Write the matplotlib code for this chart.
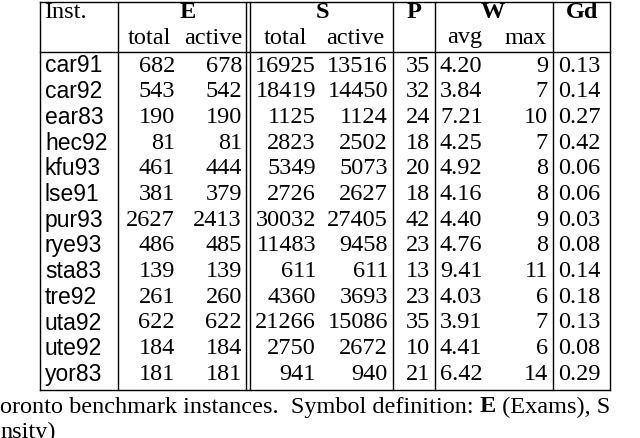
import matplotlib
matplotlib.use("Agg")
import matplotlib.pyplot as plt

names = ["car91","car92","ear83","hec92","kfu93","lse91","pur93","rye93","sta83","tre92","uta92","ute92","yor83"]
e_total = [682,543,190,81,461,381,2627,486,139,261,622,184,181]
e_active = [678,542,190,81,444,379,2413,485,139,260,622,184,181]
s_total = [16925,18419,1125,2823,5349,2726,30032,11483,611,4360,21266,2750,941]
s_active = [13516,14450,1124,2502,5073,2627,27405,9458,611,3693,15086,2672,940]
p_vals = [35,32,24,18,20,18,42,23,13,23,35,10,21]
w_avg = ["4.20","3.84","7.21","4.25","4.92","4.16","4.40","4.76","9.41","4.03","3.91","4.41","6.42"]
w_max = [9,7,10,7,8,8,9,8,11,6,7,6,14]
gd = ["0.13","0.14","0.27","0.42","0.06","0.06","0.03","0.08","0.14","0.18","0.13","0.08","0.29"]

fig = plt.figure(figsize=(6.4, 4.38), dpi=100)
ax = fig.add_axes([0, 0, 1, 1])
ax.set_xlim(0, 640); ax.set_ylim(438, 0); ax.axis("off")
serif = "Liberation Serif"; sans = "Liberation Sans"
fs = 17.5
lw = 1.0
L, R = 40, 610
for y in (2, 52, 390):
    ax.plot([L, R], [y, y], color="black", lw=lw)
for x in (L, 118, 246, 250, 393, 435, 553, R):
    ax.plot([x, x], [2, 390], color="black", lw=lw)

def t(x, y, s, ha="center", fam=serif, bold=False, size=fs):
    return ax.text(x, y, s, ha=ha, va="center", family=fam, fontsize=size,
                   fontweight="bold" if bold else "normal")

t(44, 13, "Inst.", ha="left")
t(188, 13, "E", bold=True); t(322, 13, "S", bold=True); t(414, 13, "P", bold=True)
t(493, 13, "W", bold=True); t(582, 13, "Gd", bold=True)
t(149, 38, "total"); t(213, 38, "active"); t(285, 38, "total"); t(355, 38, "active")
t(465, 38, "avg"); t(525, 38, "max")

y0, dy = 66, 25.7
for i in range(len(names)):
    y = y0 + i * dy
    t(45, y, names[i], ha="left", fam=sans, size=16.5)
    t(175, y, str(e_total[i]), ha="right")
    t(242, y, str(e_active[i]), ha="right")
    t(316, y, str(s_total[i]), ha="right")
    t(388, y, str(s_active[i]), ha="right")
    t(430, y, str(p_vals[i]), ha="right")
    t(440, y, w_avg[i], ha="left")
    t(548, y, str(w_max[i]), ha="right")
    t(558, y, gd[i], ha="left")

fig.canvas.draw()
r = fig.canvas.get_renderer()
parts = [("oronto benchmark instances.  Symbol definition: ", False),
         ("E", True), (" (Exams), S", False)]
x = 0
for s, b in parts:
    tx = t(x, 407, s, ha="left", bold=b)
    bb = tx.get_window_extent(r)
    x += bb.width
t(0, 432, "nsity)", ha="left")
fig.savefig("out.png", dpi=100)
